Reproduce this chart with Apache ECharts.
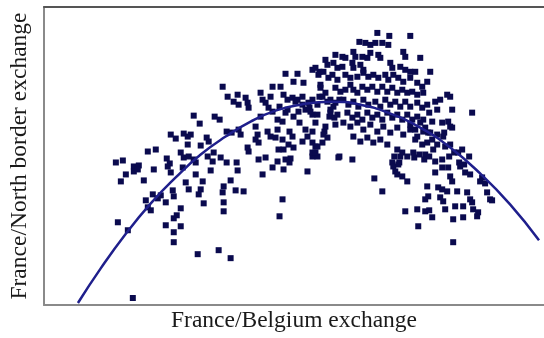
<!DOCTYPE html>
<html>
<head>
<meta charset="utf-8">
<script src="https://cdn.jsdelivr.net/npm/echarts@6/dist/echarts.min.js"></script>
<style>
html,body{margin:0;padding:0;background:#fff;}
#chart{width:544px;height:338px;}
</style>
</head>
<body>
<div id="chart"></div>
<script>
// Axis titles
var xTitle = 'France/Belgium exchange';
var yTitle = 'France/North border exchange';

var pointsLeft = [
[179,219],[184,209],[190,204],[194,211],[195,201],[202,208],[204,203],[205,198],[217,213],[219,206],
[222,203],[225,198],[227,209],[150,190],[156,182],[171,189],[176,186],[183,174],[188,173],[195,176],
[197,171],[127,171],[132,167],[140,172],[144,169],[147,171],[144,161],[157,160],[163,168],[165,164],
[104,154],[112,156],[123,147],[126,142],[137,153],[140,148],[145,149],[150,146],[152,143],[164,149],
[170,153],[177,148],[183,143],[193,143],[72,143],[79,145],[90,139],[95,140],[212,179],[214,171],
[212,166],[215,163],[204,158],[205,154],[224,174],[227,169],[215,146],[222,148],[219,131],
[77,124],[82,131],[90,134],[94,136],[100,125],[110,136],[124,139],[127,133],[139,138],[142,123],
[145,116],[152,131],[159,124],[157,116],[155,111],[167,135],[160,102],[180,119],[179,113],[180,103],
[180,94],[187,125],[192,115],[200,114],[194,135],[109,111],[114,107],[117,110],[102,105],[104,98],
[107,95],[122,103],[129,115],[130,109],[137,97],[133,90],[130,87],[122,80],[137,79],[130,73],
[130,63],[74,83],[84,75],[154,51],[175,55],[187,47],[89,7],[169,144],[229,138],[234,144],
[240,136],[247,147],[264,134],[269,149],[239,106],[236,89]
];

var pointsMiddle = [
[242,232],[254,232],[250,224],[260,223],[269,236],[240,211],[244,206],[249,208],[252,204],[259,201],
[262,196],[265,203],[255,194],[250,189],[242,193],[229,194],[234,186],[239,184],[217,189],[234,176],
[232,168],[239,166],[240,156],[245,161],[250,158],[235,156],[262,176],[264,169],[259,164],[269,163],
[269,153],[229,219],[237,219],[254,206],[259,209],[269,206],[276,209],[287,206],[292,203],[296,206],
[277,218],[282,213],[236,199],[244,196],[266,198],[269,191],[287,196],[286,189],[291,188],[256,183],
[269,174],[246,174],[249,169],[281,174],[284,168],[272,159],[242,146],[246,143],[274,149],[296,149],
[309,146],[276,234]
];

var pointsCluster = [
[334,273],[346,270],[367,270],[316,264],[322,263],[327,261],[332,263],[339,263],[345,261],[310,254],
[312,249],[319,249],[324,248],[327,253],[335,251],[337,248],[360,254],[362,249],[377,248],[292,251],
[299,249],[302,248],[282,246],[284,241],[290,243],[294,238],[299,239],[309,243],[310,238],[317,241],
[320,236],[347,243],[349,238],[357,239],[362,236],[367,234],[272,238],[275,231],[280,234],[285,228],
[289,231],[294,226],[302,231],[307,228],[314,229],[320,233],[325,229],[330,231],[335,228],[342,231],
[345,226],[350,231],[355,228],[360,224],[367,228],[374,223],[379,219],[384,224],[387,234],[372,234],
[277,221],[279,209],[292,218],[297,214],[302,216],[307,221],[310,216],[314,213],[319,219],[324,216],
[329,219],[334,214],[339,219],[344,214],[349,218],[354,213],[359,216],[364,213],[369,214],[374,211],
[380,213],[274,201],[267,194],[274,191],[284,204],[290,199],[287,193],[294,191],[300,206],[305,201],
[310,204],[315,199],[320,206],[325,201],[332,204],[337,199],[342,206],[347,201],[352,204],[357,199],
[362,204],[367,199],[374,203],[379,198],[384,201],[304,193],[309,188],[314,191],[319,186],[324,193],
[329,188],[334,191],[339,186],[344,193],[349,188],[354,191],[359,186],[364,191],[369,186],[374,189],
[380,186],[300,183],[307,179],[314,183],[320,176],[327,181],[334,174],[340,179],[347,173],[354,178],
[360,171],[367,176],[374,169],[380,174],[310,169],[317,164],[324,168],[330,163],[337,166],[344,161],
[354,156],[359,153],[370,153],[382,151],[280,171],[279,163],[274,159],[272,153],[295,148],[272,183],
[282,179],[292,181],[367,181],[372,176],[377,183],[382,178],[385,173],[372,166],[379,161],[384,163],
[390,156],[387,173]
];

var pointsRight = [
[392,204],[397,206],[404,211],[407,209],[394,196],[409,196],[429,193],[386,193],[389,184],[399,183],
[407,179],[401,173],[389,166],[394,161],[402,159],[411,153],[419,156],[426,149],[351,149],[356,143],
[357,149],[364,149],[371,148],[376,151],[381,146],[386,149],[392,144],[399,146],[406,149],[416,143],
[421,141],[349,143],[350,139],[355,141],[352,134],[354,131],[359,129],[364,124],[331,127],[339,114],
[384,119],[385,109],[382,106],[362,94],[374,96],[382,94],[405,184],[409,178],[394,171],[400,169],
[407,161],[415,153],[392,133],[399,138],[405,138],[417,139],[422,133],[427,131],[407,129],[409,124],
[439,128],[437,124],[395,118],[399,116],[404,114],[414,114],[424,113],[427,106],[444,113],[447,106],
[397,108],[400,104],[412,99],[420,99],[429,103],[430,96],[402,96],[435,93],[389,88],[410,86],
[420,88],[434,89],[375,79],[410,63],[442,122],[449,105],[386,95]
];

// Fitted curve
var fitCurve = [
[34,2],[57,37],[82,71.5],[107,102],[132,128],[157,151],[182,169],[207,184],[232,195],[257,201],
[287,204],[317,201],[347,192],[377,178],[407,158],[437,132],[467,101],[496,65]
];

var allPoints = pointsLeft.concat(pointsMiddle, pointsCluster, pointsRight);

var chart = echarts.init(document.getElementById('chart'), null, {renderer: 'canvas'});
var nameStyle = {fontFamily: 'Liberation Serif', fontSize: 23.5, color: '#1a1a1a'};
chart.setOption({
  animation: false,
  backgroundColor: '#fff',
  grid: {left: 43, right: 0, top: 7, bottom: 32},
  xAxis: [{
    type: 'value', min: 0, max: 501, position: 'bottom',
    name: xTitle, nameLocation: 'middle', nameGap: 4, nameTextStyle: nameStyle,
    axisLine: {show: true, lineStyle: {color: '#8a8a8a', width: 2}},
    axisTick: {show: false}, axisLabel: {show: false}, splitLine: {show: false}
  }, {
    type: 'value', min: 0, max: 501, position: 'top',
    axisLine: {show: true, lineStyle: {color: '#555', width: 2}},
    axisTick: {show: false}, axisLabel: {show: false}, splitLine: {show: false}
  }],
  yAxis: {
    type: 'value', min: 0, max: 299,
    name: yTitle, nameLocation: 'middle', nameGap: 12, nameRotate: 90, nameTextStyle: nameStyle,
    axisLine: {show: true, onZero: false, lineStyle: {color: '#8a8a8a', width: 2}},
    axisTick: {show: false}, axisLabel: {show: false}, splitLine: {show: false}
  },
  series: [{
    type: 'scatter', data: allPoints, symbol: 'rect', symbolSize: 6,
    itemStyle: {color: '#0a0a4e', opacity: 1}, z: 2
  }, {
    type: 'line', data: fitCurve, smooth: true, showSymbol: false,
    lineStyle: {color: '#1f1f8c', width: 2.5}, z: 3
  }]
});
</script>
</body>
</html>
